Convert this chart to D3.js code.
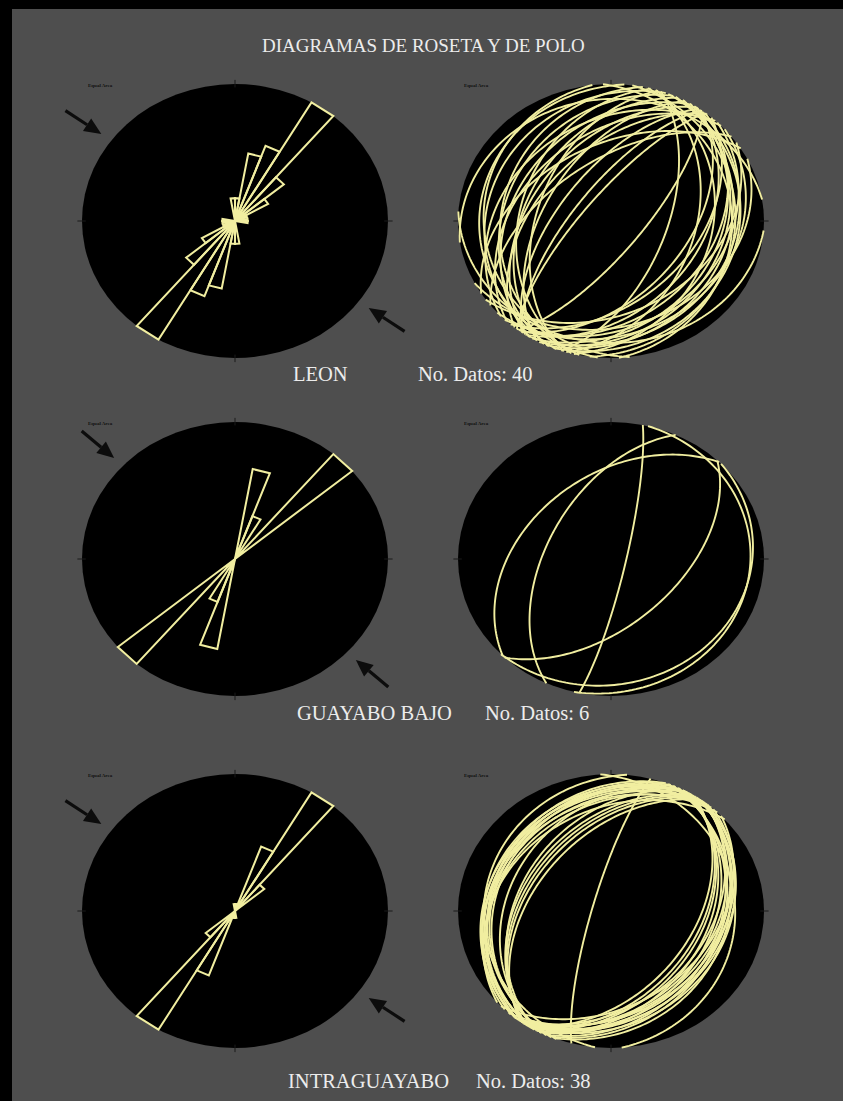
<!DOCTYPE html>
<html>
<head>
<meta charset="utf-8">
<script src="https://cdn.jsdelivr.net/npm/d3@7"></script>
<style>
  html, body { margin: 0; padding: 0; background: #000; }
  svg { display: block; }
</style>
</head>
<body>
<div id="chart"></div>
<script>
// Zones (one row each): name, number of measurements shown in the label
const zoneNames = ["LEON", "GUAYABO BAJO", "INTRAGUAYABO"];
const zoneCounts = ["No. Datos: 40", "No. Datos: 6", "No. Datos: 38"];

// Planes measured in each zone: dip direction (deg) and dip (deg)
const leonDipDir = [275, 98, 282, 104, 285, 107, 288, 109, 291, 112,
                    294, 115, 296, 118, 299, 121, 302, 123, 304, 124,
                    305, 126, 306, 127, 308, 128, 309, 131, 313, 134,
                    316, 138, 322, 145, 328, 153, 351, 184, 263, 87];
const leonDip    = [15, 20, 29, 34, 40, 44, 50, 60, 20, 18,
                    31, 24, 43, 27, 54, 30, 36, 21, 46, 40,
                    62, 48, 70, 73, 75, 34, 50, 44, 40, 27,
                    31, 21, 55, 35, 45, 25, 12, 12, 18, 22];

const guayaboDipDir = [102, 315, 134, 295, 104, 136];
const guayaboDip    = [82, 42, 53, 55, 10, 12];

const intraDipDir = [276, 285, 291, 112, 293, 114, 295, 116, 297, 118,
                     299, 119, 300, 121, 301, 122, 302, 123, 303, 124,
                     304, 125, 305, 126, 306, 127, 307, 128, 308, 129,
                     309, 129, 311, 132, 314, 136, 318, 86];
const intraDip    = [18, 80, 22, 25, 24, 28, 26, 30, 33, 34,
                     39, 37, 20, 40, 22, 42, 24, 45, 41, 25,
                     43, 28, 45, 30, 48, 34, 26, 37, 21, 27,
                     23, 32, 28, 30, 25, 35, 30, 20];

// Inferred horizontal compression azimuth per zone (arrows)
const compressionAz = [306, 313, 306];

// Rose class width (deg)
const roseStep = 10;

const planeSets = [
  { dipDir: leonDipDir, dip: leonDip },
  { dipDir: guayaboDipDir, dip: guayaboDip },
  { dipDir: intraDipDir, dip: intraDip }
];

const W = 843, H = 1101;
const rowY = [221, 559, 911];
const colX = [235, 611];
const RX = 153, RY = 137;
const yellow = "#f1eea0";
const rad = Math.PI / 180;

const svg = d3.select("#chart").append("svg")
  .attr("width", W).attr("height", H);

svg.append("rect").attr("width", W).attr("height", H).attr("fill", "#000");
svg.append("rect").attr("x", 12).attr("y", 9)
  .attr("width", W - 12).attr("height", H - 9).attr("fill", "#4e4e4e");

svg.append("text")
  .attr("x", 262).attr("y", 52)
  .attr("font-family", "Liberation Serif, Times New Roman, serif")
  .attr("font-size", 19)
  .attr("fill", "#ececec")
  .text("DIAGRAMAS DE ROSETA Y DE POLO");

// Net frame: disc, cardinal ticks and the "Equal Area" caption
function makeNet(g, cx, cy) {
  const x = d3.scaleLinear().domain([-1, 1]).range([cx - RX, cx + RX]);
  const y = d3.scaleLinear().domain([-1, 1]).range([cy + RY, cy - RY]);
  const pt = (az, n) => [x(n * Math.sin(az * rad)), y(n * Math.cos(az * rad))];

  g.append("ellipse")
    .attr("cx", x(0)).attr("cy", y(0))
    .attr("rx", RX).attr("ry", RY)
    .attr("fill", "#000");

  [0, 90, 180, 270].forEach(az => {
    const a = pt(az, 0.975), b = pt(az, 1.03);
    g.append("line")
      .attr("x1", a[0]).attr("y1", a[1]).attr("x2", b[0]).attr("y2", b[1])
      .attr("stroke", "#1a1a1a").attr("stroke-width", 1);
  });

  g.append("text")
    .attr("x", x(-1) + 6).attr("y", y(1) + 3)
    .attr("font-family", "Liberation Serif, serif")
    .attr("font-size", 5).attr("font-weight", "bold")
    .attr("fill", "#111")
    .text("Equal Area");

  return pt;
}

// Lower-hemisphere equal-area (Schmidt) trace of a plane
function greatCircle(dipDir, dip) {
  const s = [Math.sin((dipDir - 90) * rad), Math.cos((dipDir - 90) * rad), 0];
  const d = [Math.sin(dipDir * rad) * Math.cos(dip * rad),
             Math.cos(dipDir * rad) * Math.cos(dip * rad),
             Math.sin(dip * rad)];
  return d3.range(0, 180.5, 1.5).map(t => {
    const c = Math.cos(t * rad), sn = Math.sin(t * rad);
    const e = c * s[0] + sn * d[0];
    const n = c * s[1] + sn * d[1];
    const dn = Math.max(0, Math.min(1, c * s[2] + sn * d[2]));
    const trend = Math.atan2(e, n) / rad;
    const plunge = Math.asin(dn) / rad;
    const r = Math.SQRT2 * Math.sin((90 - plunge) / 2 * rad);
    return { az: trend, n: r };
  });
}

function arrow(g, pt, az, r0, r1) {
  const a = pt(az, r0), b = pt(az, r1);
  const dx = b[0] - a[0], dy = b[1] - a[1];
  const L = Math.hypot(dx, dy), ux = dx / L, uy = dy / L;
  const head = 17, half = 7.5;
  const base = [b[0] - ux * head, b[1] - uy * head];
  g.append("line")
    .attr("x1", a[0]).attr("y1", a[1]).attr("x2", base[0]).attr("y2", base[1])
    .attr("stroke", "#0c0c0c").attr("stroke-width", 3.2);
  g.append("path")
    .attr("d", d3.line()([b,
      [base[0] - uy * half, base[1] + ux * half],
      [base[0] + uy * half, base[1] - ux * half]]) + "Z")
    .attr("fill", "#0c0c0c");
}

zoneNames.forEach((name, i) => {
  const set = planeSets[i];
  const cy = rowY[i];

  // ---- Rose diagram of strikes ----
  const gR = svg.append("g");
  const ptR = makeNet(gR, colX[0], cy);
  const strikes = set.dipDir.map(dd => (dd + 90) % 180);
  const bins = d3.bin()
    .domain([0, 180])
    .thresholds(d3.range(roseStep, 180, roseStep))(strikes);
  const rS = d3.scaleLinear()
    .domain([0, d3.max(bins, b => b.length)])
    .range([0, 1]);
  const petals = [];
  bins.filter(b => b.length > 0).forEach(b => {
    [0, 180].forEach(off => {
      petals.push([ptR(0, 0), ptR(b.x0 + off, rS(b.length)), ptR(b.x1 + off, rS(b.length))]);
    });
  });
  gR.selectAll("path.petal").data(petals).join("path")
    .attr("class", "petal")
    .attr("d", p => d3.line()(p) + "Z")
    .attr("fill", "none")
    .attr("stroke", yellow)
    .attr("stroke-width", 2)
    .attr("stroke-linejoin", "miter");

  arrow(gR, ptR, compressionAz[i], 1.37, 1.08);
  arrow(gR, ptR, compressionAz[i] - 180, 1.37, 1.08);

  // ---- Polo (great circle) diagram ----
  const gP = svg.append("g");
  const ptP = makeNet(gP, colX[1], cy);
  const arcs = set.dipDir.map((dd, k) => greatCircle(dd, set.dip[k]));
  gP.selectAll("path.gc").data(arcs).join("path")
    .attr("class", "gc")
    .attr("d", a => d3.line().curve(d3.curveLinear)(a.map(p => ptP(p.az, p.n))))
    .attr("fill", "none")
    .attr("stroke", yellow)
    .attr("stroke-width", 1.9);

  // ---- Labels ----
  const labelY = [381, 720, 1088][i];
  const labelX = [293, 297, 288][i];
  const countX = [418, 485, 476][i];
  svg.append("text")
    .attr("x", labelX).attr("y", labelY)
    .attr("font-family", "Liberation Serif, Times New Roman, serif")
    .attr("font-size", 20.5).attr("fill", "#ececec")
    .text(name);
  svg.append("text")
    .attr("x", countX).attr("y", labelY)
    .attr("font-family", "Liberation Serif, Times New Roman, serif")
    .attr("font-size", 20.5).attr("fill", "#ececec")
    .text(zoneCounts[i]);
});
</script>
</body>
</html>
